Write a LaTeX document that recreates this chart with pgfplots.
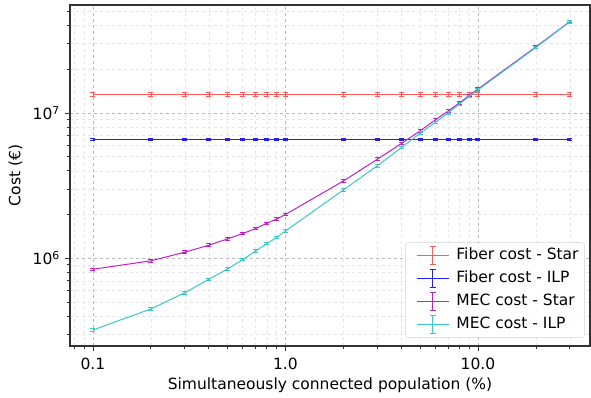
\documentclass[border=0pt]{standalone}
\usepackage{fontspec}
\setmainfont{DejaVu Sans}
\usepackage{pgfplots}
\usepackage{pgfplotstable}
\pgfplotsset{compat=1.18}
\definecolor{cred}{HTML}{FF5A5A}
\definecolor{cblue}{HTML}{2020F0}
\definecolor{cmag}{HTML}{C020C8}
\definecolor{ccyan}{HTML}{38C8C8}
\pgfplotsset{errleg/.style={legend image code/.code={
    \path (-8pt,0pt);
    \draw[#1, line width=1pt] (0pt,0pt) -- (32pt,0pt);
    \draw[#1, line width=1pt] (16pt,-9pt) -- (16pt,9pt);
    \draw[#1, line width=1pt] (13pt,-9pt) -- (19pt,-9pt);
    \draw[#1, line width=1pt] (13pt,9pt) -- (19pt,9pt);
    \path (36pt,0pt);
  }}}
\pgfplotstableread{
x    fs       fi       ms       mi
0.1  1.345e7  6.55e6   8.4e5    3.21e5
0.2  1.345e7  6.55e6   9.6e5    4.48e5
0.3  1.345e7  6.55e6   1.10e6   5.79e5
0.4  1.345e7  6.55e6   1.23e6   7.17e5
0.5  1.345e7  6.55e6   1.36e6   8.44e5
0.6  1.345e7  6.55e6   1.48e6   9.78e5
0.7  1.345e7  6.55e6   1.60e6   1.12e6
0.8  1.345e7  6.55e6   1.74e6   1.26e6
0.9  1.345e7  6.55e6   1.86e6   1.39e6
1    1.345e7  6.55e6   2.00e6   1.54e6
2    1.345e7  6.55e6   3.40e6   2.95e6
3    1.345e7  6.55e6   4.80e6   4.33e6
4    1.345e7  6.55e6   6.15e6   5.77e6
5    1.345e7  6.55e6   7.52e6   7.25e6
6    1.345e7  6.55e6   8.95e6   8.60e6
7    1.345e7  6.55e6   1.03e7   1.00e7
8    1.345e7  6.55e6   1.17e7   1.15e7
9    1.345e7  6.55e6   1.32e7   1.30e7
10   1.345e7  6.55e6   1.46e7   1.44e7
20   1.345e7  6.55e6   2.85e7   2.82e7
30   1.345e7  6.55e6   4.25e7   4.24e7
}\data
\begin{document}
\fontsize{15}{18}\selectfont
\begin{tikzpicture}
\begin{axis}[name=ax,
  xmode=log, ymode=log,
  scale only axis, width=520pt, height=341pt,
  xmin=0.076, xmax=38.2, ymin=2.49e5, ymax=5.53e7,
  xtick={0.1,1,10}, xticklabels={0.1,1.0,10.0},
  minor xtick={0.08,0.09,0.2,0.3,0.4,0.5,0.6,0.7,0.8,0.9,2,3,4,5,6,7,8,9,20,30},
  ytick={1e6,1e7}, yticklabels={10\textsuperscript{6},10\textsuperscript{7}},
  minor ytick={3e5,4e5,5e5,6e5,7e5,8e5,9e5,2e6,3e6,4e6,5e6,6e6,7e6,8e6,9e6,2e7,3e7,4e7,5e7},
  grid=both,
  major grid style={dashed, gray!55, line width=0.6pt},
  minor grid style={dashed, gray!20, line width=0.5pt},
  tick align=outside, xtick pos=left, ytick pos=left,
  major tick length=5pt, minor tick length=3pt,
  every tick/.style={black!80, line width=0.8pt},
  axis line style={line width=1.4pt, black!80},
  tick label style={font=\fontsize{15.5}{18}\selectfont},
  xticklabel style={yshift=-2pt},
  label style={font=\fontsize{15.5}{18}\selectfont},
  xlabel={Simultaneously connected population (\%)},
  ylabel={Cost (€)},
  x label style={at={(axis description cs:0.5,0)}, anchor=center, yshift=-39pt},
  legend style={at={(0.99,0.024)}, anchor=south east, draw=gray!35, rounded corners=3pt,
    fill=white, fill opacity=0.85, text opacity=1, font=\fontsize{15.5}{18}\selectfont,
    row sep=3pt, inner sep=3pt,
    nodes={text height=11pt, text depth=3pt, inner sep=3pt}},
  legend cell align=left,
]
\addplot[color=cred, line width=1pt, mark=none, errleg=cred,
  error bars/.cd, y dir=both, y fixed relative=0.03,
  error mark options={rotate=90, mark size=2.5pt, line width=1pt, color=cred}]
  table[x=x, y=fs] {\data};
\addlegendentry{Fiber cost - Star}
\addplot[color=cblue, line width=1pt, mark=none, errleg=cblue,
  error bars/.cd, y dir=both, y fixed relative=0.02,
  error mark options={rotate=90, mark size=2.5pt, line width=1pt, color=cblue}]
  table[x=x, y=fi] {\data};
\addlegendentry{Fiber cost - ILP}
\addplot[color=cmag, line width=1pt, mark=none, errleg=cmag,
  error bars/.cd, y dir=both, y fixed relative=0.02,
  error mark options={rotate=90, mark size=2.5pt, line width=1pt, color=cmag}]
  table[x=x, y=ms] {\data};
\addlegendentry{MEC cost - Star}
\addplot[color=ccyan, line width=1pt, mark=none, errleg=ccyan,
  error bars/.cd, y dir=both, y fixed relative=0.02,
  error mark options={rotate=90, mark size=2.5pt, line width=1pt, color=ccyan}]
  table[x=x, y=mi] {\data};
\addlegendentry{MEC cost - ILP}
\end{axis}
\path (ax.south west) ++(-70pt,-50pt);
\path (ax.north east) ++(1pt,5pt);
\end{tikzpicture}
\end{document}
